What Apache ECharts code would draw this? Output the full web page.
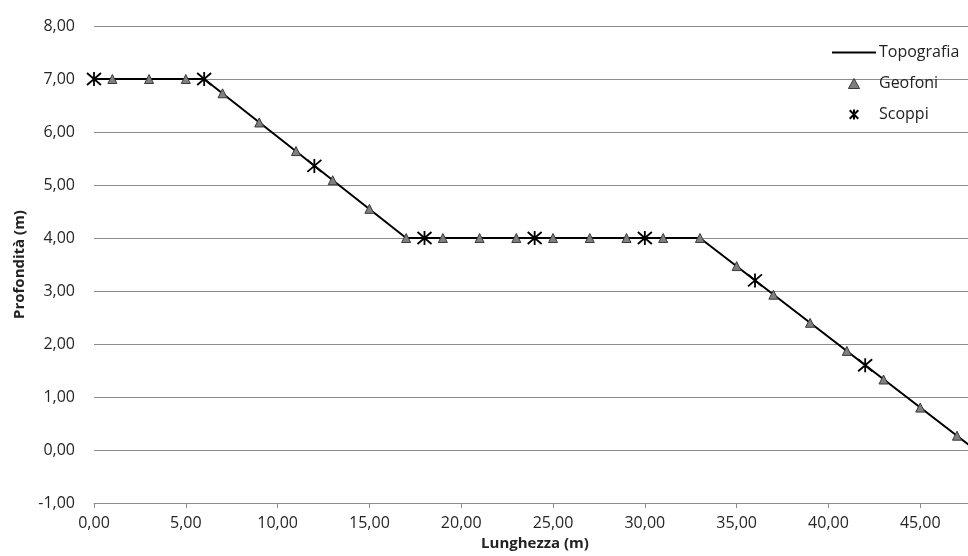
<!DOCTYPE html>
<html><head><meta charset="utf-8">
<script src="https://cdn.jsdelivr.net/npm/echarts@6/dist/echarts.min.js"></script>
<style>html,body{margin:0;padding:0;background:#fff}#c{width:968px;height:556px}</style>
</head><body><div id="c"></div>
<script>
const topoX = [0, 6, 17, 33, 48];
const topoY = [7, 7, 4, 4, 0];
const geoX = [1, 3, 5, 7, 9, 11, 13, 15, 17, 19, 21, 23, 25, 27, 29, 31, 33, 35, 37, 39, 41, 43, 45, 47];
const geoY = [7, 7, 7, 6.73, 6.18, 5.64, 5.09, 4.55, 4, 4, 4, 4, 4, 4, 4, 4, 4, 3.47, 2.93, 2.4, 1.87, 1.33, 0.8, 0.27];
const shotX = [0, 6, 12, 18, 24, 30, 36, 42, 48];
const shotY = [7, 7, 5.36, 4, 4, 4, 3.2, 1.6, 0];
const xTitle = 'Lunghezza (m)';
const yTitle = 'Profondità (m)';

const zip = (a, b) => a.map((v, i) => [v, b[i]]);
const fmt = v => v.toFixed(2).replace('.', ',');
const FONT = '"Open Sans", "Noto Sans", sans-serif';
const star = 'path://M0,0L12,12M12,0L0,12M6,-1L6,13';
const tri = 'path://M5,0L10,9L0,9Z';

const chart = echarts.init(document.getElementById('c'));
chart.setOption({
  animation: false,
  backgroundColor: '#fff',
  grid: { left: 94, top: 26, right: 0, bottom: 53, containLabel: false },
  legend: {
    orient: 'vertical', left: 827, top: 37,
    itemWidth: 44, itemHeight: 10, itemGap: 10,
    symbolKeepAspect: true,
    textStyle: { fontFamily: FONT, fontSize: 16, color: '#222', lineHeight: 21, padding: [0, 0, 0, -2] },
    data: [
      { name: 'Topografia', icon: 'path://M0,0H44V2.2H0Z', itemStyle: { color: '#000' } },
      { name: 'Geofoni', icon: tri, itemStyle: { color: '#808080', borderColor: '#3a3a3a', borderWidth: 1 } },
      { name: 'Scoppi', icon: star }
    ]
  },
  xAxis: {
    type: 'value', min: 0, max: 47.6, interval: 5,
    name: xTitle, nameLocation: 'middle', nameGap: 24,
    nameTextStyle: { fontFamily: FONT, fontSize: 15, fontWeight: 'bold', color: '#222', padding: [0, 0, 0, 8] },
    axisLine: { show: true, onZero: false, lineStyle: { color: '#8c8c8c', width: 1 } },
    axisTick: { show: true, length: 5, inside: false, lineStyle: { color: '#8c8c8c' } },
    axisLabel: { fontFamily: FONT, fontSize: 16, color: '#262626', margin: 12, formatter: fmt, showMaxLabel: false },
    splitLine: { show: false }
  },
  yAxis: {
    type: 'value', min: -1, max: 8, interval: 1,
    name: yTitle, nameLocation: 'middle', nameGap: 64, nameRotate: 90,
    nameTextStyle: { fontFamily: FONT, fontSize: 15, fontWeight: 'bold', color: '#222' },
    axisLine: { show: false },
    axisTick: { show: false },
    axisLabel: { fontFamily: FONT, fontSize: 16, color: '#262626', margin: 19, formatter: fmt },
    splitLine: { show: true, lineStyle: { color: '#8c8c8c', width: 1 } }
  },
  series: [
    {
      name: 'Topografia', type: 'line', data: zip(topoX, topoY),
      symbol: 'none', lineStyle: { color: '#000', width: 2 }, itemStyle: { color: '#000' }, z: 2
    },
    {
      name: 'Geofoni', type: 'scatter', data: zip(geoX, geoY),
      symbol: 'triangle', symbolSize: 9,
      itemStyle: { color: '#808080', borderColor: '#3a3a3a', borderWidth: 1, opacity: 1 }, z: 3
    },
    {
      name: 'Scoppi', type: 'scatter', data: zip(shotX, shotY), clip: false,
      symbol: star, symbolSize: [14, 14],
      itemStyle: { color: '#000', borderColor: '#000', borderWidth: 1.8, opacity: 1 }, z: 4
    }
  ]
});
</script></body></html>
